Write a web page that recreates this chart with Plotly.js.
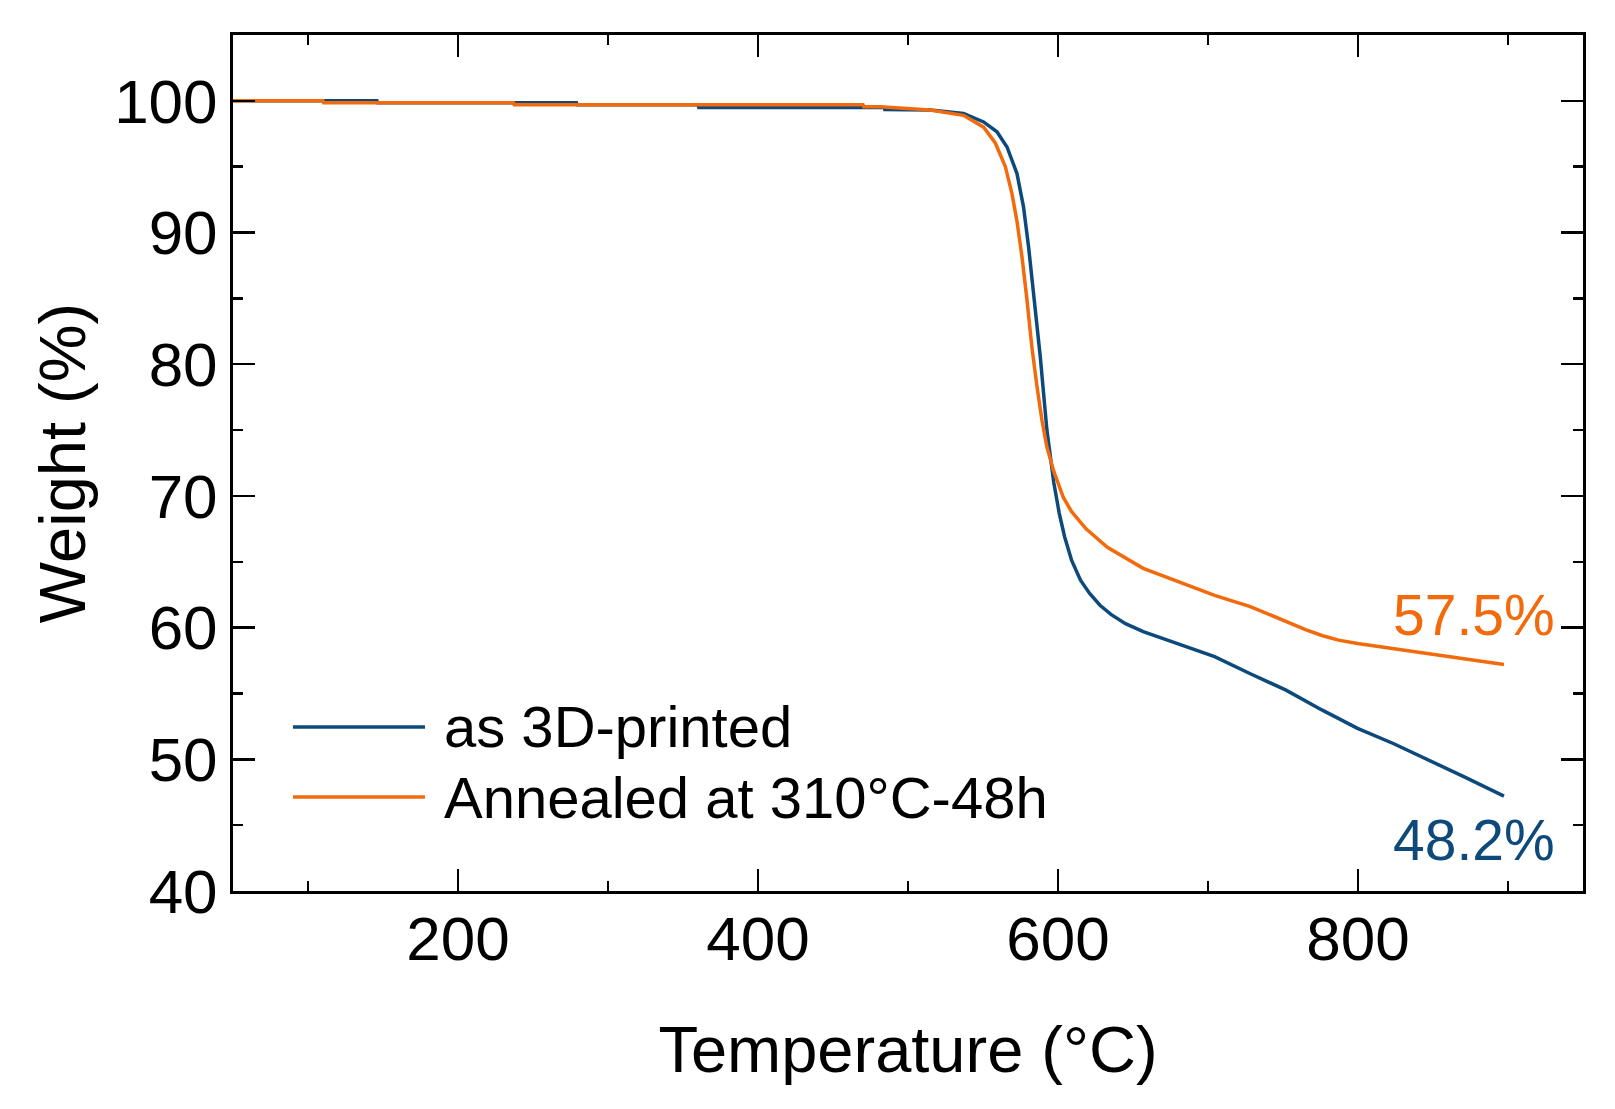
<!DOCTYPE html>
<html>
<head>
    <meta charset="utf-8">
    <title>TGA</title>
    <script src="https://cdn.plot.ly/plotly-3.0.1.min.js" charset="utf-8"></script>
    <style>
        * { margin: 0; padding: 0; }
        body { background: white; }
        #chart { width: 1615px; height: 1109px; }
    </style>
</head>
<body>
<div id="chart"></div>
<script>
    // as 3D-printed (blue)
    const tempPrinted = [50, 146, 146.5, 279, 279.5, 360, 360.5, 484, 484.5, 515, 537, 550.4, 559.3, 566,
        572.6, 577, 580.4, 584.8, 588.2, 592.6, 595, 597.2, 600.8, 604.4, 609.1, 615, 621.1, 628, 635.3,
        645, 656.8, 680.6, 704.4, 728.2, 752, 775.9, 799.7, 823.5, 847.3, 871.2, 897.3];
    const weightPrinted = [100, 100, 99.85, 99.85, 99.7, 99.7, 99.5, 99.5, 99.35, 99.3, 99.04, 98.4, 97.65, 96.5,
        94.5, 91.95, 88.9, 84.35, 80.55, 75.0, 73.0, 71.0, 68.7, 66.9, 65.1, 63.6, 62.6, 61.7, 61.0,
        60.3, 59.7, 58.75, 57.8, 56.5, 55.25, 53.75, 52.35, 51.2, 49.95, 48.65, 47.2];

    // annealed at 310°C-48h (orange)
    const tempAnnealed = [50, 110, 110.5, 237, 237.5, 470, 470.5, 481.5, 514.8, 537, 550.4, 558.2, 564.9,
        569.3, 572.6, 576, 579.3, 582.6, 586, 589.3, 592.6, 597.1, 603.5, 609.1, 618.7, 632.9,
        656.8, 680.6, 704.4, 728.2, 752, 765, 775.9, 787, 799.7, 823.5, 847.3, 871.2, 897.3];
    const weightAnnealed = [100, 100, 99.85, 99.85, 99.7, 99.7, 99.55, 99.55, 99.3, 98.9, 98.0, 96.8, 95.0,
        92.95, 90.9, 88.15, 84.9, 81.3, 78.3, 75.75, 73.7, 71.9, 69.9, 68.8, 67.5, 66.1,
        64.5, 63.5, 62.45, 61.6, 60.45, 59.85, 59.4, 59.05, 58.8, 58.4, 58.05, 57.65, 57.2];

    const seriesNames = ['as 3D-printed', 'Annealed at 310°C-48h'];
    const residueLabels = ['48.2%', '57.5%'];
    const residueX = [877.6, 877.6];
    const residueY = [43.9, 60.95];

    const BLUE = '#0d4a7b';
    const ORANGE = '#f26a0c';
    const FONT = 'Liberation Sans, Arial, sans-serif';

    let trace1 = {
        x: tempPrinted, y: weightPrinted, name: seriesNames[0],
        type: 'scatter', mode: 'lines',
        line: {color: BLUE, width: 3.5}
    };
    let trace2 = {
        x: tempAnnealed, y: weightAnnealed, name: seriesNames[1],
        type: 'scatter', mode: 'lines',
        line: {color: ORANGE, width: 3.5}
    };

    let axisCommon = {
        showline: true, linecolor: 'black', linewidth: 3,
        mirror: 'ticks', ticks: 'inside', ticklen: 22, tickwidth: 2.5, tickcolor: 'black',
        showgrid: false, zeroline: false,
        tickfont: {family: FONT, size: 62, color: 'black'}
    };

    // legend drawn by hand so the line samples can be long
    let legendY = [0.1916, 0.1098];
    let colors = [BLUE, ORANGE];
    let shapes = [];
    let annotations = [];
    for (let i = 0; i < 2; i++) {
        shapes.push({
            type: 'line', xref: 'paper', yref: 'paper',
            x0: 0.0444, x1: 0.1422, y0: legendY[i], y1: legendY[i],
            line: {color: colors[i], width: 3.5}
        });
        annotations.push({
            xref: 'paper', yref: 'paper', x: 0.1548, y: legendY[i],
            xanchor: 'left', yanchor: 'middle', showarrow: false,
            text: seriesNames[i], font: {family: FONT, size: 58, color: 'black'}
        });
        annotations.push({
            xref: 'x', yref: 'y', x: residueX[i], y: residueY[i],
            xanchor: 'center', yanchor: 'middle', showarrow: false,
            text: residueLabels[i], font: {family: FONT, size: 57, color: colors[i]}
        });
    }

    let layout = {
        width: 1615, height: 1109,
        margin: {l: 233, r: 32, t: 35, b: 218},
        paper_bgcolor: 'white', plot_bgcolor: 'white',
        showlegend: false,
        font: {family: FONT, color: 'black'},
        xaxis: Object.assign({}, axisCommon, {
            range: [50, 950], tick0: 0, dtick: 200,
            minor: {tick0: 0, dtick: 100, ticks: 'inside', ticklen: 10, tickwidth: 2.5, tickcolor: 'black'},
            ticklabelstandoff: -8,
            title: {text: 'Temperature (°C)', font: {family: FONT, size: 65, color: 'black'}, standoff: 55}
        }),
        yaxis: Object.assign({}, axisCommon, {
            range: [40, 105], tick0: 0, dtick: 10,
            minor: {tick0: 0, dtick: 5, ticks: 'inside', ticklen: 10, tickwidth: 2.5, tickcolor: 'black'},
            ticklabelstandoff: 0,
            title: {text: 'Weight (%)', font: {family: FONT, size: 65, color: 'black'}, standoff: 8}
        }),
        shapes: shapes,
        annotations: annotations
    };

    Plotly.newPlot('chart', [trace1, trace2], layout, {displayModeBar: false, staticPlot: true});
</script>
</body>
</html>
